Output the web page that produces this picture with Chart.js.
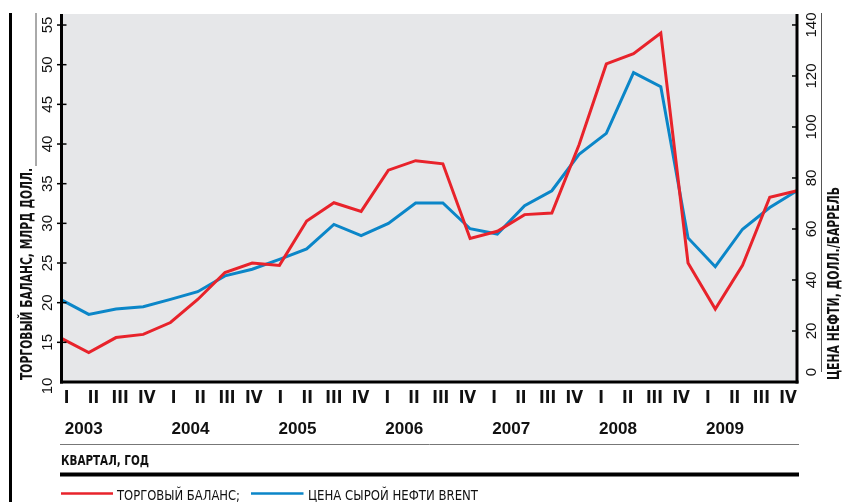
<!DOCTYPE html>
<html><head><meta charset="utf-8">
<script src="https://cdn.jsdelivr.net/npm/chart.js@4/dist/chart.umd.min.js"></script>
<style>html,body{margin:0;padding:0;background:#fff;}canvas{display:block;}</style>
</head><body>
<canvas id="c" width="844" height="502"></canvas>
<script>
// ---- data ----
const years = ['2003','2004','2005','2006','2007','2008','2009'];
const quarters = ['I','II','III','IV'];
const categories = years.flatMap(y => quarters.map(q => q + ' ' + y));
const tradeBalance = [15.5,13.7,15.6,16.0, 17.5,20.4,23.8,25.0, 24.7,30.3,32.6,31.5, 36.7,37.9,37.5,28.1, 29.0,31.1,31.3,39.9, 50.1,51.4,54.0,25.0, 19.2,24.7,33.3,34.1];
const brentPrice   = [32.2,26.5,28.6,29.5, 32.4,35.4,41.6,44.2, 48.1,52.2,61.8,57.4, 62.2,70.2,70.2,60.1, 58.0,69.1,75.0,89.3, 97.5,121.3,115.8,56.5, 45.2,59.9,68.4,75.0];
const leftTicks  = [10,15,20,25,30,35,40,45,50,55];
const rightTicks = [0,20,40,60,80,100,120,140];
const seriesNames = ['ТОРГОВЫЙ БАЛАНС;', 'ЦЕНА СЫРОЙ НЕФТИ BRENT'];
const leftTitle  = 'ТОРГОВЫЙ БАЛАНС, МЛРД ДОЛЛ.';
const rightTitle = 'ЦЕНА НЕФТИ, ДОЛЛ./БАРРЕЛЬ';
const xTitle = 'КВАРТАЛ, ГОД';

// ---- styles ----
const RED = '#e8232b', BLUE = '#0b86c8', BG = '#e6e7e9';
const NARROW = "'Liberation Sans Narrow', 'DejaVu Sans Condensed', 'Liberation Sans', sans-serif";
const SANS = "'Liberation Sans', Arial, sans-serif";

function drawText(ctx, text, x, y, opt) {
  ctx.save();
  ctx.font = opt.font;
  ctx.fillStyle = opt.color || '#111';
  ctx.textBaseline = opt.baseline || 'alphabetic';
  ctx.textAlign = opt.align || 'left';
  ctx.translate(x, y);
  if (opt.rot) ctx.rotate(opt.rot);
  if (opt.width) {
    const w = ctx.measureText(text).width;
    ctx.scale(opt.width / w, 1);
  }
  ctx.fillText(text, 0, 0);
  ctx.restore();
}
function line(ctx, x1, y1, x2, y2, w, c) {
  ctx.save(); ctx.beginPath(); ctx.moveTo(x1, y1); ctx.lineTo(x2, y2);
  ctx.lineWidth = w; ctx.strokeStyle = c; ctx.stroke(); ctx.restore();
}

const deco = {
  id: 'deco',
  beforeDraw(chart) {
    const {ctx, chartArea: a} = chart;
    ctx.save();
    ctx.fillStyle = '#fff'; ctx.fillRect(0, 0, chart.width, chart.height);
    ctx.fillStyle = BG; ctx.fillRect(a.left, a.top, a.right - a.left, a.bottom - a.top);
    ctx.restore();
  },
  afterDraw(chart) {
    const {ctx, chartArea: a, scales} = chart;
    const yl = scales.y, yr = scales.y1, xq = scales.xq;
    // axes
    line(ctx, a.left, a.top, a.left, a.bottom + 1.5, 3, '#000');
    line(ctx, a.right, a.top, a.right, a.bottom + 1.5, 3, '#000');
    line(ctx, a.left - 1.5, a.bottom, a.right + 1.5, a.bottom, 3, '#000');
    // left ticks + labels
    leftTicks.forEach((v, i) => {
      const y = yl.getPixelForValue(v);
      if (i > 0) line(ctx, a.left - 4.5, y, a.left + 5, y, 1.5, '#000');
      const off = i === 0 ? 4 : 0;
      drawText(ctx, String(v), 51.5, y + off, {font: '15px ' + SANS, align: 'center', rot: -Math.PI / 2});
    });
    // right ticks + labels
    rightTicks.forEach((v, i) => {
      const y = yr.getPixelForValue(v);
      if (i > 0) line(ctx, a.right - 5, y, a.right, y, 1.5, '#000');
      const off = i === 0 ? -10 : 0;
      drawText(ctx, String(v), 816, y + off, {font: '15px ' + SANS, align: 'center', rot: -Math.PI / 2});
    });
    // axis titles
    drawText(ctx, leftTitle, 31.5, 380, {font: 'bold 15px ' + NARROW, rot: -Math.PI / 2, width: 212});
    drawText(ctx, rightTitle, 839, 380, {font: 'bold 15px ' + NARROW, rot: -Math.PI / 2, width: 193});
    // frame rules
    line(ctx, 10.5, 13, 10.5, 502, 3, '#000');
    line(ctx, 36, 13, 36, 166, 1, '#555');
    line(ctx, 821.5, 13, 821.5, 372, 1, '#555');
    // years
    years.forEach((yr, k) => {
      const x = xq.getPixelForValue(k * 4);
      drawText(ctx, yr, x - 2, 433.5, {font: 'bold 16px ' + SANS, width: 38});
    });
    line(ctx, 60, 444.5, 799, 444.5, 1, '#777');
    drawText(ctx, xTitle, 61, 465, {font: 'bold 14px ' + NARROW, width: 88});
    line(ctx, 60, 474.5, 799, 474.5, 4, '#000');
    // legend
    const ds = chart.data.datasets;
    line(ctx, 61, 493.5, 113, 493.5, 2.5, ds[0].borderColor);
    drawText(ctx, ds[0].label, 117, 500, {font: '14px ' + NARROW, width: 123});
    line(ctx, 251, 493.5, 303.5, 493.5, 2.5, ds[1].borderColor);
    drawText(ctx, ds[1].label, 308, 500, {font: '14px ' + NARROW, width: 170});
  }
};

new Chart(document.getElementById('c').getContext('2d'), {
  type: 'line',
  data: {
    labels: categories,
    datasets: [
      {label: seriesNames[0], data: tradeBalance, borderColor: RED, borderWidth: 3, pointRadius: 0, tension: 0, fill: false, yAxisID: 'y', xAxisID: 'x'},
      {label: seriesNames[1], data: brentPrice, borderColor: BLUE, borderWidth: 3, pointRadius: 0, tension: 0, fill: false, yAxisID: 'y1', xAxisID: 'x'}
    ]
  },
  options: {
    responsive: false, animation: false, devicePixelRatio: 1,
    layout: {padding: {top: 14, left: 0, right: 0, bottom: 0}},
    plugins: {legend: {display: false}, tooltip: {enabled: false}},
    scales: {
      x: {type: 'category', display: false},
      xq: {
        type: 'linear', position: 'bottom', min: -0.195, max: 27.336,
        afterBuildTicks: s => { s.ticks = categories.map((_, i) => ({value: i})); },
        afterFit: s => { s.height = 120; },
        grid: {display: false, drawTicks: false}, border: {display: false},
        ticks: {autoSkip: false, maxRotation: 0, minRotation: 0, padding: 6, color: '#111',
          font: {family: NARROW, size: 17, weight: 'bold'},
          callback: (v, i) => quarters[i % 4]}
      },
      y: {
        position: 'left', min: 10, max: 56.39,
        afterBuildTicks: s => { s.ticks = leftTicks.map(v => ({value: v})); },
        afterFit: s => { s.width = 61.5; },
        grid: {display: false}, border: {display: false}, ticks: {display: false}
      },
      y1: {
        position: 'right', min: 0, max: 144.3,
        afterBuildTicks: s => { s.ticks = rightTicks.map(v => ({value: v})); },
        afterFit: s => { s.width = 47; },
        grid: {display: false}, border: {display: false}, ticks: {display: false}
      }
    }
  },
  plugins: [deco]
});
</script>
</body></html>
